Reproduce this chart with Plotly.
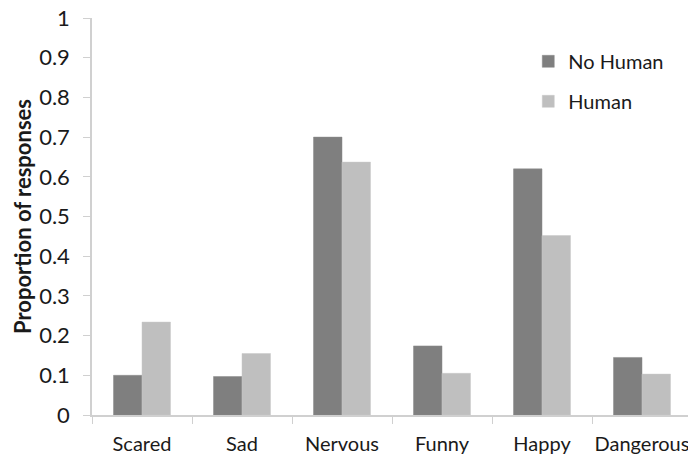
import plotly.graph_objects as go

categories = ["Scared", "Sad", "Nervous", "Funny", "Happy", "Dangerous"]
no_human = [0.10, 0.097, 0.70, 0.174, 0.62, 0.145]
human = [0.234, 0.155, 0.637, 0.105, 0.452, 0.103]
y_ticks = [0, 0.1, 0.2, 0.3, 0.4, 0.5, 0.6, 0.7, 0.8, 0.9, 1]
y_tick_text = ["0", "0.1", "0.2", "0.3", "0.4", "0.5", "0.6", "0.7", "0.8", "0.9", "1"]

FONT = "Lato"
TXT = "#1a1a1a"
fig = go.Figure()
fig.add_trace(go.Bar(x=categories, y=no_human, name="No Human",
                     marker=dict(color="#7f7f7f", line=dict(color="#8a8a8a", width=0.5)),
                     legendgroup="a"))
fig.add_trace(go.Bar(x=categories, y=human, name="Human",
                     marker=dict(color="#bfbfbf", line=dict(color="#c8c8c8", width=0.5)),
                     legendgroup="b"))

fig.update_layout(
    width=688, height=455,
    margin=dict(l=92, r=0, t=18, b=40),
    paper_bgcolor="white", plot_bgcolor="white",
    barmode="group", bargap=0.43, bargroupgap=0,
    font=dict(family=FONT, size=20, color=TXT),
    legend=dict(x=0.732, y=0.94, xanchor="left", yanchor="top",
                font=dict(family=FONT, size=20, color=TXT),
                traceorder="grouped", tracegroupgap=11,
                bgcolor="rgba(0,0,0,0)"),
    xaxis=dict(range=[-0.5, 5.46], showgrid=False, showline=True,
               linecolor="#d0d0d0", linewidth=1.5,
               ticks="outside", tickson="boundaries", ticklen=7,
               tickcolor="#d0d0d0", tickwidth=1, ticklabelstandoff=10,
               automargin=False, ticklabeloverflow="allow",
               tickfont=dict(family=FONT, size=20, color=TXT)),
    yaxis=dict(range=[0, 1], tickvals=y_ticks, ticktext=y_tick_text,
               showgrid=False, showline=True, linecolor="#d0d0d0", linewidth=1.5,
               ticks="outside", ticklen=7, tickcolor="#d0d0d0", tickwidth=1,
               zeroline=False, ticklabelstandoff=9, automargin=False,
               ticklabeloverflow="allow",
               tickfont=dict(family=FONT, size=22, color=TXT),
               title=dict(text="<b>Proportion of responses</b>",
                          font=dict(family=FONT, size=22, color=TXT),
                          standoff=1)),
)

# remove the page's default body margin so the figure fills the window exactly
fig.write_html("out.html",
               config={"displayModeBar": False},
               post_script="document.body.style.margin='0';document.body.style.overflow='hidden';")
